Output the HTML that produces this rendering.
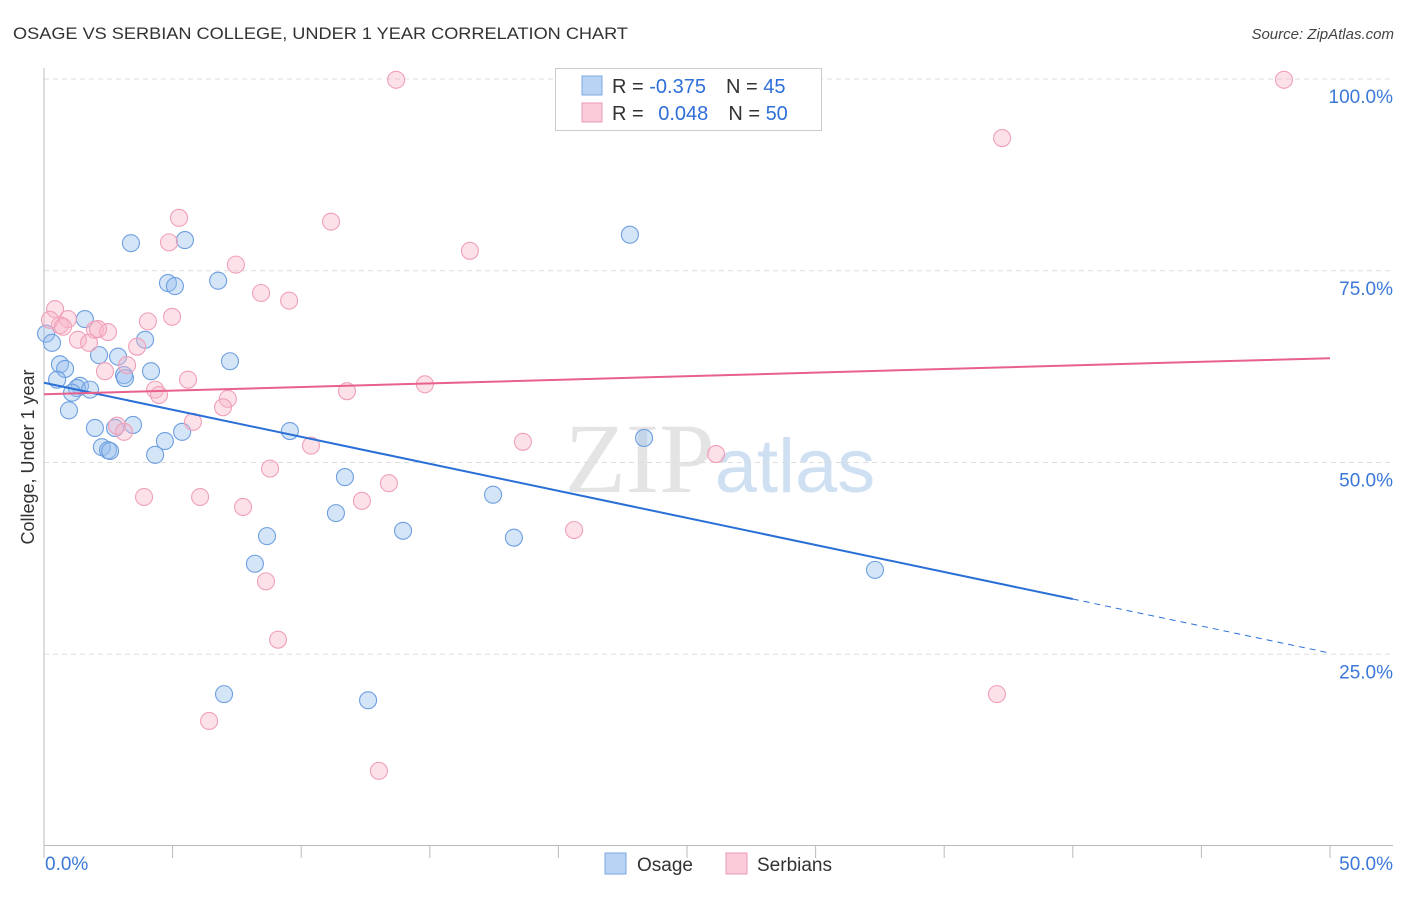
<!DOCTYPE html>
<html><head><meta charset="utf-8"><style>
body{margin:0;background:#fff;width:1406px;height:892px;overflow:hidden;font-family:"Liberation Sans",sans-serif}
</style></head><body>
<svg id="chart" width="1406" height="892" xmlns="http://www.w3.org/2000/svg" font-family="Liberation Sans, sans-serif">
<text x="13" y="39" font-size="17" fill="#333" textLength="615" lengthAdjust="spacingAndGlyphs">OSAGE VS SERBIAN COLLEGE, UNDER 1 YEAR CORRELATION CHART</text>
<text x="1394" y="39" font-size="15" font-style="italic" fill="#444" text-anchor="end">Source: ZipAtlas.com</text>
<text x="720" y="492" font-size="100" text-anchor="middle" fill="#e4e4e4" font-family="Liberation Serif, serif">ZIP<tspan fill="#cfe0f3" font-family="Liberation Sans, sans-serif" font-size="76">atlas</tspan></text>
<g id="grid"></g>
<g id="axes"></g>
<g id="pts"></g>
<g id="lines"></g>
<text transform="translate(34,457) rotate(-90)" font-size="18" fill="#333" text-anchor="middle">College, Under 1 year</text>
<g>
<rect x="555.5" y="68.5" width="266" height="62" fill="#fff" stroke="#ccc"/>
<rect x="582" y="76" width="20" height="19" fill="#b8d3f3" stroke="#7aa8e0"/>
<rect x="582" y="103" width="20" height="19" fill="#fbcbd9" stroke="#ee9ab4"/>
<text x="612" y="93" font-size="20" fill="#333">R = <tspan fill="#2f6fd8">-0.375</tspan><tspan dx="20">N = </tspan><tspan fill="#2f6fd8">45</tspan></text>
<text x="612" y="120" font-size="20" fill="#333">R = <tspan fill="#2f6fd8" dx="9">0.048</tspan><tspan dx="20">N = </tspan><tspan fill="#2f6fd8">50</tspan></text>
</g>
<g><rect x="605" y="853" width="21" height="21" fill="#b8d3f3" stroke="#7aa8e0"/><text x="637" y="871" font-size="19" fill="#333">Osage</text></g>
<g><rect x="726" y="853" width="21" height="21" fill="#fbcbd9" stroke="#ee9ab4"/><text x="757" y="871" font-size="19" fill="#333">Serbians</text></g>
</svg>
<script>
const yTicks=[25,50,75,100];
const yTickLabels=["25.0%","50.0%","75.0%","100.0%"];
const xTickLabels=["0.0%","50.0%"];
const osageX=[3.38,5.48,4.82,5.09,6.77,22.78,1.59,3.93,0.08,0.31,2.14,2.88,0.62,0.82,4.16,3.11,3.15,0.51,1.40,1.28,1.79,1.09,0.97,7.23,1.98,3.46,2.76,5.37,4.70,9.56,2.25,2.49,4.32,23.33,11.70,17.46,11.35,13.96,18.27,8.67,8.20,32.31,7.00,12.60,2.57];
const osageY=[78.6,79.0,73.4,73.0,73.7,79.7,68.7,66.0,66.8,65.6,64.0,63.8,62.8,62.2,61.9,61.4,61.0,60.8,60.0,59.7,59.5,59.1,56.8,63.2,54.5,54.9,54.5,54.0,52.8,54.1,52.0,51.6,51.0,53.2,48.1,45.8,43.4,41.1,40.2,40.4,36.8,36.0,19.8,19.0,51.5];
const serbX=[13.69,48.21,37.25,5.25,11.16,4.86,16.56,7.46,8.44,9.53,0.43,4.98,4.04,0.93,0.62,1.98,2.49,1.32,1.75,3.62,3.23,2.37,5.60,14.81,4.32,4.47,11.78,7.15,6.96,5.79,2.84,3.11,10.38,18.62,26.13,8.79,3.89,6.07,13.41,12.36,7.74,20.61,8.63,9.10,37.05,6.42,13.02,0.23,2.10,0.74];
const serbY=[99.9,99.9,92.3,81.9,81.4,78.7,77.6,75.8,72.1,71.1,70.0,69.0,68.4,68.7,67.9,67.3,67.0,66.0,65.6,65.1,62.7,61.9,60.8,60.2,59.5,58.8,59.3,58.3,57.2,55.3,54.8,54.0,52.2,52.7,51.1,49.2,45.5,45.5,47.3,45.0,44.2,41.2,34.5,26.9,19.8,16.3,9.8,68.6,67.4,67.7];
const osageTrend=[60.4,-0.705];
const serbTrend=[58.9,0.094];
const NS="http://www.w3.org/2000/svg";
const X0=44,X1=1330,Y0=846,YS=7.67;
function xs(v){return X0+(X1-X0)*v/50;}
function ys(v){return Y0-v*YS;}
function mk(p,tag,a){const e=document.createElementNS(NS,tag);for(const k in a)e.setAttribute(k,a[k]);p.appendChild(e);return e;}
const grid=document.getElementById('grid'),axes=document.getElementById('axes'),pts=document.getElementById('pts'),lines=document.getElementById('lines');
yTicks.forEach((t,i)=>{
 const l=mk(grid,'line',{x1:X0,x2:1393,y1:ys(t),y2:ys(t),stroke:'#ddd','stroke-dasharray':'5,4'});
 
 
 const tx=mk(axes,'text',{x:1393,y:ys(t)+24,'font-size':19,fill:'#3b78d8','text-anchor':'end'});
 tx.textContent=yTickLabels[i];
 
 
});
let a=mk(axes,'line',{x1:X0,x2:X0,y1:68,y2:846,stroke:'#bbb'});


a=mk(axes,'line',{x1:X0,x2:1393,y1:845.5,y2:845.5,stroke:'#bbb'});


for(let k=0;k<=10;k++){const t=mk(axes,'line',{x1:xs(k*5),x2:xs(k*5),y1:846,y2:858,stroke:'#bbb'});
 
 }
[[0,'start',45],[50,'end',1393]].forEach((d,i)=>{const t=mk(axes,'text',{x:d[2],y:870,'font-size':19,fill:'#3b78d8','text-anchor':d[1]});t.textContent=xTickLabels[i];
 
 });
osageX.forEach((x,i)=>{const c=mk(pts,'circle',{cx:xs(x),cy:ys(osageY[i]),r:8.5,fill:'rgba(150,190,238,0.4)',stroke:'#6d9fe0','stroke-width':1.1});
 
 });
serbX.forEach((x,i)=>{const c=mk(pts,'circle',{cx:xs(x),cy:ys(serbY[i]),r:8.5,fill:'rgba(248,180,200,0.4)',stroke:'#f0a0b8','stroke-width':1.1});
 
 });
const f=(t,x)=>t[0]+t[1]*x;
let l=mk(lines,'line',{x1:xs(0),y1:ys(f(osageTrend,0)),x2:xs(40),y2:ys(f(osageTrend,40)),stroke:'#2a6fd6','stroke-width':2});


l=mk(lines,'line',{x1:xs(40),y1:ys(f(osageTrend,40)),x2:xs(50),y2:ys(f(osageTrend,50)),stroke:'#2a6fd6','stroke-width':1,'stroke-dasharray':'6,5'});


l=mk(lines,'line',{x1:xs(0),y1:ys(f(serbTrend,0)),x2:xs(50),y2:ys(f(serbTrend,50)),stroke:'#e8608c','stroke-width':2});


</script>
</body></html>
